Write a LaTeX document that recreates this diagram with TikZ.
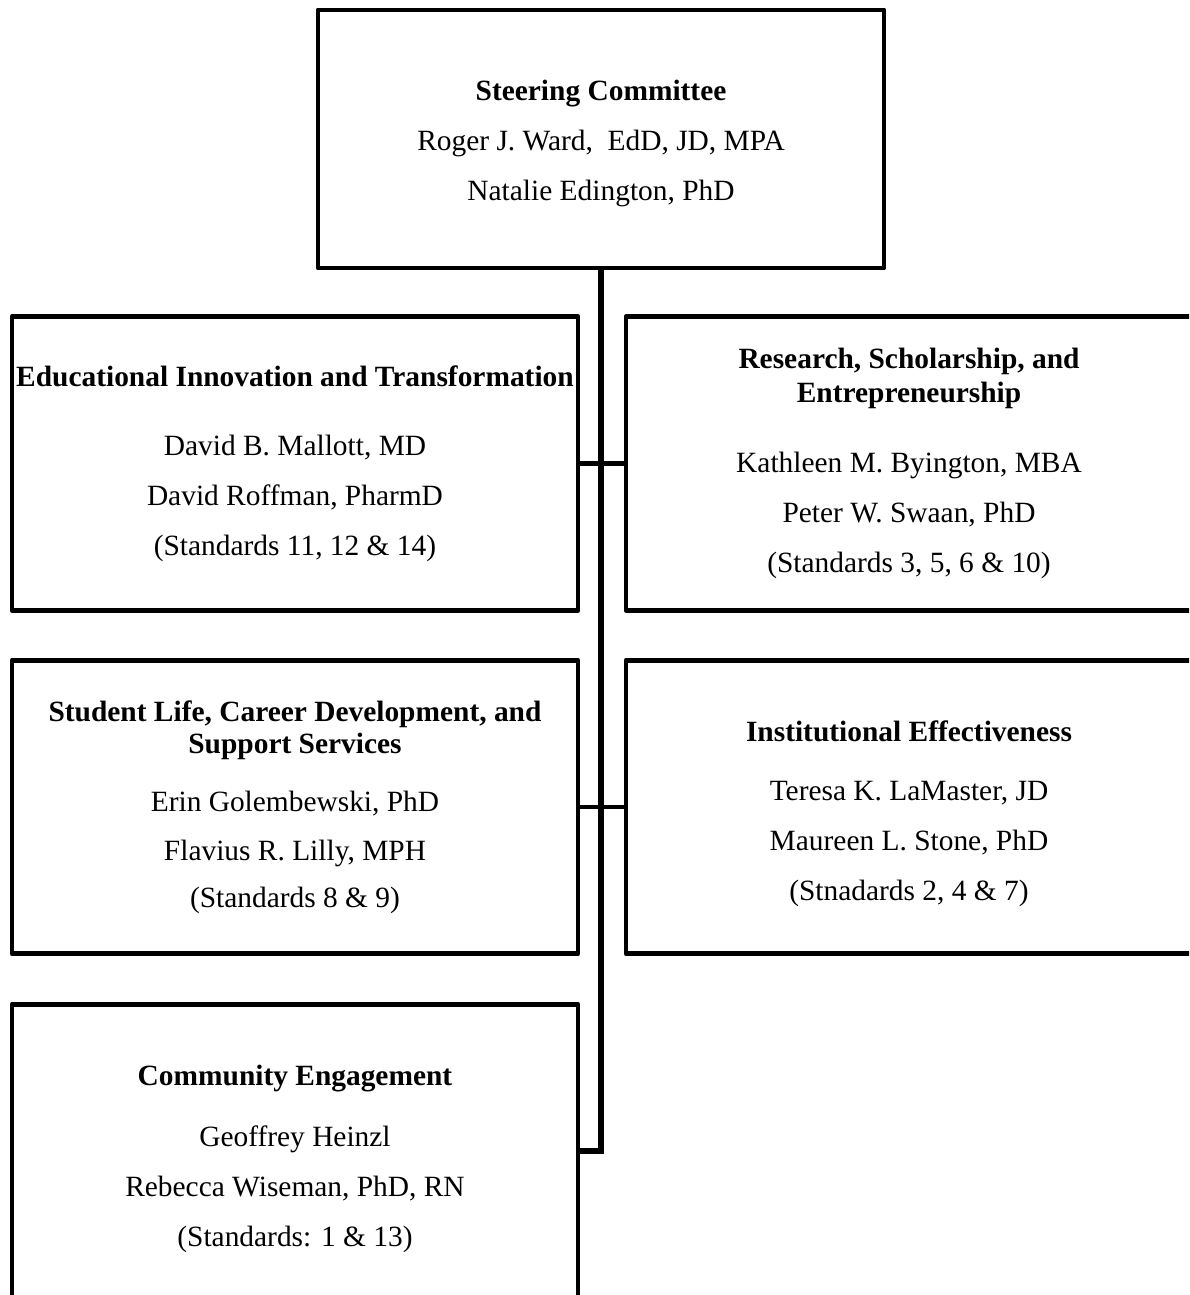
\documentclass[tikz,border=0pt]{standalone}
\usepackage{fontspec}
\setmainfont{Liberation Serif}
\usepackage{tikz}
\usetikzlibrary{calc}

\begin{document}
\begin{tikzpicture}[x=0.408pt,y=-0.408pt,
  unit/.style={draw,line width=2pt,line join=round,inner sep=0pt,
    minimum width=230.9pt,minimum height=119.7pt,align=center,
    font=\fontsize{12}{20.4}\selectfont},
  top/.style={unit,minimum height=105.3pt},
  trunk/.style={line width=2.3pt,line join=miter},
  link/.style={line width=2pt}]
 \useasboundingbox (0,0) rectangle (1189,1295);
 \clip (0,0) rectangle (1189,1295);
 \node[top] (steer) at (601,139) {\textbf{Steering Committee}\rule{0pt}{12.1pt}\\Roger J. Ward,\ \ EdD, JD, MPA\\Natalie Edington, PhD};
 \node[unit] (edu) at (295,463.5) {\textbf{Educational Innovation and Transformation}\\[7.8pt]David B. Mallott, MD\\David Roffman, PharmD\\(Standards 11, 12 \& 14)};
 \node[unit] (res) at (909,463.5) {\textbf{Research, Scholarship, and}\\[-6.9pt]\textbf{Entrepreneurship}\\[8.2pt]Kathleen M. Byington, MBA\\Peter W. Swaan, PhD\\(Standards 3, 5, 6 \& 10)};
 \node[unit] (stu) at (295,807) {\textbf{Student Life, Career Development, and}\\[-7.3pt]\textbf{Support Services}\\[3.3pt]Erin Golembewski, PhD\\[-0.4pt]Flavius R. Lilly, MPH\\[-1.2pt](Standards 8 \& 9)};
 \node[unit] (inst) at (909,807) {\textbf{Institutional Effectiveness}\rule{0pt}{13.8pt}\\[3.7pt]Teresa K. LaMaster, JD\\Maureen L. Stone, PhD\\(Stnadards 2, 4 \& 7)};
 \node[unit] (com) at (295,1151) {\textbf{Community Engagement}\rule{0pt}{14.7pt}\\[4.5pt]Geoffrey Heinzl\\Rebecca Wiseman, PhD, RN\\(Standards: 1 \& 13)};
 \draw[trunk] (steer.south) -- (steer.south |- com.east) -- (com.east);
 \draw[link] (edu) -- (res);
 \draw[link] (stu) -- (inst);
\end{tikzpicture}
\end{document}
